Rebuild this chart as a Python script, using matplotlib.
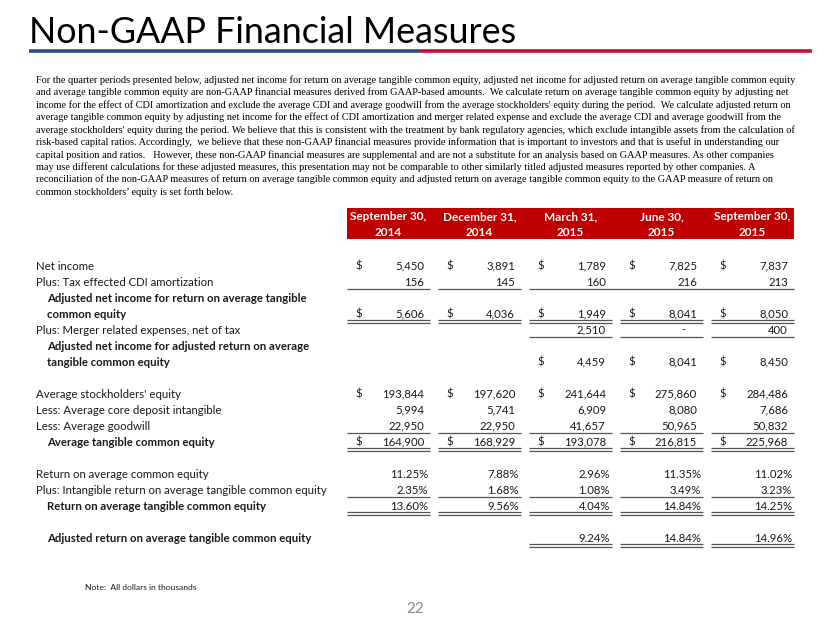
"""Non-GAAP financial measures slide: reconciliation table."""

import matplotlib
matplotlib.use("Agg")
import matplotlib.pyplot as plt
from matplotlib.patches import Rectangle

# ---- data -------------------------------------------------------------
periods = ["September 30,\n2014", "December 31,\n2014", "March 31,\n2015",
           "June 30,\n2015", "September 30,\n2015"]
net_income = [5450, 3891, 1789, 7825, 7837]
cdi_amortization = [156, 145, 160, 216, 213]
adj_ni_rotce = [5606, 4036, 1949, 8041, 8050]
merger_expenses = [None, None, 2510, 0, 400]
adj_ni_adj_rotce = [None, None, 4459, 8041, 8450]
avg_equity = [193844, 197620, 241644, 275860, 284486]
avg_cdi = [5994, 5741, 6909, 8080, 7686]
avg_goodwill = [22950, 22950, 41657, 50965, 50832]
avg_tce = [164900, 168929, 193078, 216815, 225968]
roe = [11.25, 7.88, 2.96, 11.35, 11.02]
intangible_return = [2.35, 1.68, 1.08, 3.49, 3.23]
rotce = [13.60, 9.56, 4.04, 14.84, 14.25]
adj_rotce = [None, None, 9.24, 14.84, 14.96]

paragraph = [
    "For the quarter periods presented below, adjusted net income for return on average tangible common equity, adjusted net income for adjusted return on average tangible common equity",
    "and average tangible common equity are non-GAAP financial measures derived from GAAP-based amounts.  We calculate return on average tangible common equity by adjusting net",
    "income for the effect of CDI amortization and exclude the average CDI and average goodwill from the average stockholders' equity during the period.  We calculate adjusted return on",
    "average tangible common equity by adjusting net income for the effect of CDI amortization and merger related expense and exclude the average CDI and average goodwill from the",
    "average stockholders' equity during the period. We believe that this is consistent with the treatment by bank regulatory agencies, which exclude intangible assets from the calculation of",
    "risk-based capital ratios. Accordingly,  we believe that these non-GAAP financial measures provide information that is important to investors and that is useful in understanding our",
    "capital position and ratios.   However, these non-GAAP financial measures are supplemental and are not a substitute for an analysis based on GAAP measures. As other companies",
    "may use different calculations for these adjusted measures, this presentation may not be comparable to other similarly titled adjusted measures reported by other companies. A",
    "reconciliation of the non-GAAP measures of return on average tangible common equity and adjusted return on average tangible common equity to the GAAP measure of return on",
    "common stockholders\u2019 equity is set forth below.",
]

# row spec: (row index, label, bold, values, kind, dollar sign, underline)
# underline: None, "single", "double", "single_merge" (cols 3-5 joined)
rows = [
    (0, "Net income", False, net_income, "usd", True, None),
    (1, "Plus: Tax effected CDI amortization", False, cdi_amortization, "usd", False, "single_merge"),
    (2, "Adjusted net income for return on average tangible", True, None, None, False, None),
    (3, "common equity", True, adj_ni_rotce, "usd", True, "double"),
    (4, "Plus: Merger related expenses, net of tax", False, merger_expenses, "usd", False, "single"),
    (5, "Adjusted net income for adjusted return on average", True, None, None, False, None),
    (6, "tangible common equity", True, adj_ni_adj_rotce, "usd", True, None),
    (8, "Average stockholders' equity", False, avg_equity, "usd", True, None),
    (9, "Less: Average core deposit intangible", False, avg_cdi, "usd", False, None),
    (10, "Less: Average goodwill", False, avg_goodwill, "usd", False, "single"),
    (11, "Average tangible common equity", True, avg_tce, "usd", True, "double"),
    (13, "Return on average common equity", False, roe, "pct", False, None),
    (14, "Plus: Intangible return on average tangible common equity", False, intangible_return, "pct", False, "single"),
    (15, "Return on average tangible common equity", True, rotce, "pct", False, "double"),
    (17, "Adjusted return on average tangible common equity", True, adj_rotce, "pct", False, "double"),
]

# ---- style ------------------------------------------------------------
SANS = ["Lato", "DejaVu Sans"]
SERIF = ["Liberation Serif", "DejaVu Serif"]
TXT = "#1a1a1a"
HEADER_RED = "#C00000"
RULE_BLUE = "#2B4A8B"
RULE_RED = "#C8102E"
LINE_GRAY = "#555555"

fig = plt.figure(figsize=(8.3, 6.23), dpi=100)
ax = fig.add_axes([0, 0, 1, 1])
ax.set_xlim(0, 830)
ax.set_ylim(623, 0)
ax.axis("off")
renderer = fig.canvas.get_renderer()


def fit(text, width, **kw):
    t = ax.text(0, 0, text, fontsize=10, **kw)
    w = t.get_window_extent(renderer).width
    t.remove()
    return 10 * width / w


# title and rule
title_size = fit("Non-GAAP Financial Measures", 487, family=SANS)
ax.text(29, 43, "Non-GAAP Financial Measures", fontsize=title_size,
        family=SANS, color="#000000", va="baseline", ha="left")
ax.plot([29, 420], [51, 51], color=RULE_BLUE, lw=2.6, solid_capstyle="butt")
ax.plot([420, 812], [51, 51], color=RULE_RED, lw=2.6, solid_capstyle="butt")

# paragraph
para_size = fit(paragraph[0], 757, family=SERIF)
for i, line in enumerate(paragraph):
    ax.text(36, 80 + 12.45 * i, line, fontsize=para_size, family=SERIF,
            color="#000000", va="center", ha="left")

# table geometry
col_left = [347 + 91 * i for i in range(5)]
col_width = 83
row_y0, row_h = 266, 16
label_size = fit("Plus: Intangible return on average tangible common equity", 291, family=SANS)

# header
ax.add_patch(Rectangle((347, 208), 447, 31, facecolor=HEADER_RED, edgecolor="none"))
head_size = fit("September 30,", 77, family=SANS, weight="bold")
for i, p in enumerate(periods):
    top, bottom = p.split("\n")
    cx = col_left[i] + col_width / 2
    ax.text(cx, 217, top, fontsize=head_size, family=SANS, weight="bold",
            color="white", ha="center", va="center")
    ax.text(cx, 233, bottom, fontsize=head_size, family=SANS, weight="bold",
            color="white", ha="center", va="center")


def hline(x0, x1, y):
    ax.plot([x0, x1], [y, y], color=LINE_GRAY, lw=0.9, solid_capstyle="butt")


for idx, label, bold, values, kind, dollar, under in rows:
    y = row_y0 + row_h * idx
    ax.text(47 if bold else 36, y, label, fontsize=label_size, family=SANS,
            weight="bold" if bold else "normal", color=TXT, ha="left", va="center")
    if values is None:
        continue
    for i, v in enumerate(values):
        if v is None:
            continue
        left = col_left[i]
        if kind == "usd":
            right = left + col_width - 6
            if v == 0:
                ax.text(right - 14, y, "-", fontsize=label_size, family=SANS,
                        color=TXT, ha="center", va="center")
            else:
                ax.text(right, y, f"{v:,}", fontsize=label_size, family=SANS,
                        color=TXT, ha="right", va="center")
            if dollar:
                ax.text(left + 8, y, "$", fontsize=label_size, family=SANS,
                        color=TXT, ha="left", va="center")
        else:
            ax.text(left + col_width - 2, y, f"{v:.2f}%", fontsize=label_size,
                    family=SANS, color=TXT, ha="right", va="center")
        if under == "single" or (under == "single_merge" and i < 2):
            hline(left, left + col_width, y + 7)
        elif under == "double":
            hline(left, left + col_width, y + 6)
            hline(left, left + col_width, y + 8.5)
    if under == "single_merge":
        hline(col_left[2], col_left[4] + col_width, y + 7)

# footer
note_size = fit("Note:  All dollars in thousands", 111, family=SANS)
ax.text(85, 588, "Note:  All dollars in thousands", fontsize=note_size,
        family=SANS, color=TXT, ha="left", va="center")
ax.text(415, 609, "22", fontsize=11, family=SANS, color="#8a8a8a",
        ha="center", va="center")

fig.savefig("out.png", dpi=100, facecolor="white")
